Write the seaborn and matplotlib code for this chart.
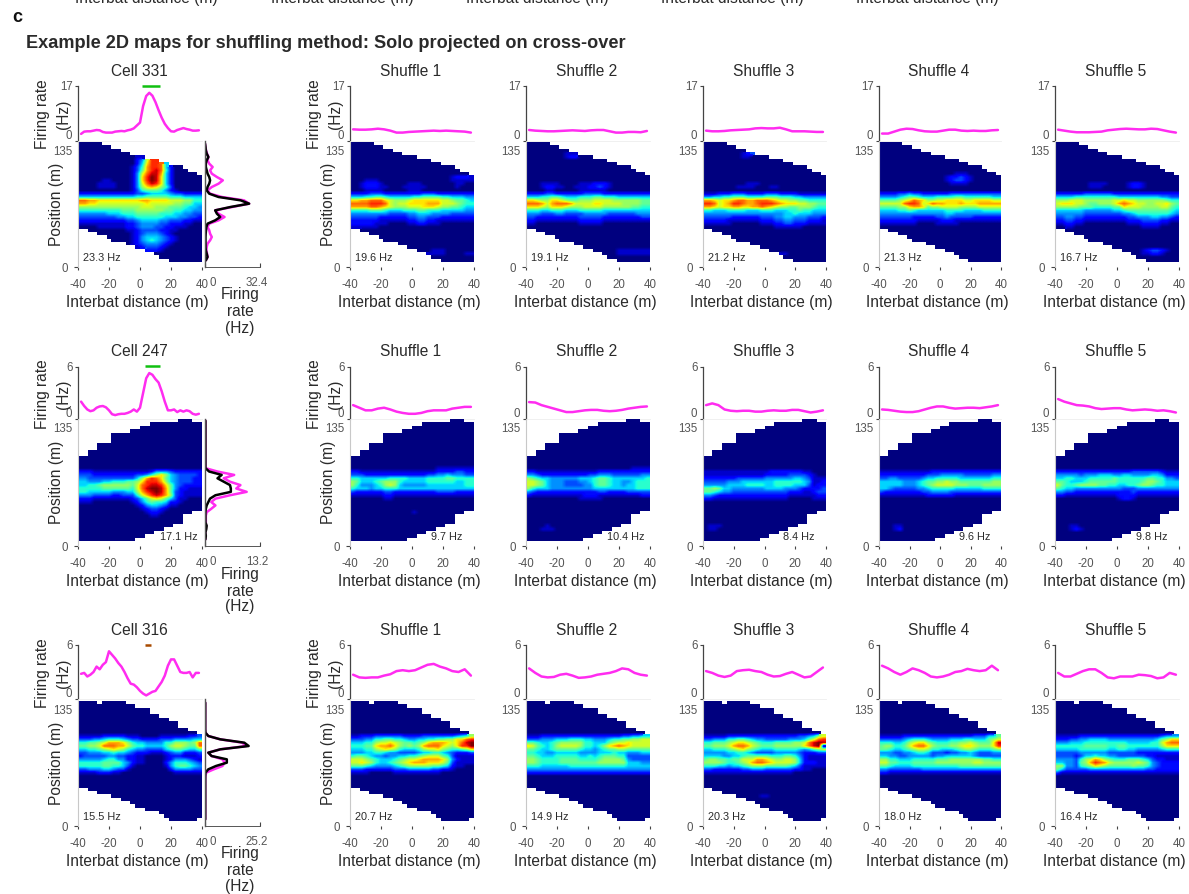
import numpy as np
import matplotlib
matplotlib.use("Agg")
import matplotlib.pyplot as plt
import seaborn as sns

FIG_W = 1189
FIG_H = 895
N_ROWS = 36
N_COLS = 26

DIST_CELL = list(range(-38, 39, 2))
DIST_SHUF = list(range(-38, 39, 4))
ROW_POS = [r + 0.5 for r in range(N_ROWS)]

# upper / lower edge of the occupied area, per column
TOP_A = [0,0,0,0,0,1,1,2,2,3,3,4,4,4,5,5,5,6,6,7,7,7,8,9,9,10]
BOT_A = [26,26,27,27,28,28,29,30,30,30,31,31,32,32,33,33,34,35,35,36,36,36,36,36,36,36]
TOP_B = [11,11,9,9,7,7,7,4,4,4,4,3,3,2,2,1,1,1,1,1,1,0,0,0,1,1]
BOT_B = [36,36,36,36,36,36,36,36,36,36,36,36,35,35,34,34,33,33,32,32,31,31,28,28,27,27]
TOP_C = [0,0,0,0,1,0,0,0,0,0,1,1,2,2,2,4,4,5,5,6,6,8,8,9,9,10]
BOT_C = [26,26,27,27,28,28,28,29,29,30,30,31,32,32,33,33,33,34,35,36,36,36,36,36,36,35]

# maps: row -> hex levels per column (0 = lowest, f = peak), missing = 0
MAP_331 = {4:"000000000000112200000", 5:"00000000000024 9ddb52000000".replace(" ", ""), 6:"0000000000002 5addc52000000".replace(" ", ""),
    7:"00000000000136bddc52000000", 8:"00000000000137bdec62000000", 9:"00000000000149ceeb52000000",
    10:"0000000000014adfea52000000", 11:"0000011000014adfea52000000", 12:"00001111000149ceda52000000",
    13:"00001111000148aba863000000", 14:"00000000000136777642100000", 15:"22222222222233455554332222",
    16:"55555555555566777776665555", 17:"ccbbaaaaaaaaabbaaaa9998866", 18:"bbaa9999999999a99999887755",
    19:"88888888888889998887776554", 20:"66666666677788888877665544", 21:"44444455566677777666554433",
    22:"33333333445566666655544332", 23:"22222222223345555443332211", 24:"11111111112234444332221100",
    25:"00001111112234443322111000", 26:"00000000001123333221100000", 27:"00000000000123444321000000",
    28:"00000000000124555432100000", 29:"00000000000124565432100000", 30:"00000000000123444321000000",
    31:"00000000000012333210000000", 32:"00000000000011222100000000", 33:"00000000000000110000000000"}
MAP_A1 = {10:"00000000000000000000012221", 11:"00011100000000000000011111", 12:"00122210000011100000001100",
    13:"00122211000111110000001000", 14:"00011110000011100000000000", 15:"22223332222222233322222222",
    16:"55566776555556677776655544", 17:"aabbccca98889aaaaaa9987765", 18:"ccccdddc9899aaaabbb9998766",
    19:"bbbbccba9888999aaa98877655", 20:"66667776555666776665555544", 21:"44444444333344555444433333",
    22:"33333322222233443332222222", 23:"22222211111122332211111111", 24:"22222111000011221110000000",
    25:"111111", 32:"000000000000000001110", 33:"00000000000000001111000011"}
MAP_A2 = {3:"00000000111", 4:"000000001220", 12:"00011110000111222100", 13:"00012211001112232100",
    14:"00001100000111111", 15:"22223322222233332222222222", 16:"55566776555666776665555555",
    17:"aa988aa9877888999988888877", 18:"cccb9bcccb9999aa9999888877", 19:"aaa98aaa988899998888887766",
    20:"66655666555666665555555555", 21:"44433344333344444333333444", 22:"33222222222333332222222233",
    23:"22111111111222221111111111", 24:"11000000000111110000000000", 32:"00000000000000000001111111",
    33:"00000000000000000001111111"}
MAP_A3 = {3:"00000000123", 4:"0000000011", 12:"00000000011100000000", 13:"000000011110001100000",
    15:"11122233322223332222111111", 16:"44556677766667776665544444", 17:"bba9aabccbbcccba9988776666",
    18:"ddc9abddcbbcdddcbaaa998877", 19:"bba9aabbaabbcba98877888766", 20:"66555666655566655566766555",
    21:"44444444444444444556555444", 22:"33333322222233344554443332", 23:"22222111111122233443332221",
    24:"11111100000011122332221111", 25:"00000000000000011111100000", 33:"000000000000000111"}
MAP_A4 = {9:"00000000000000001110", 10:"00000000000000122321000000", 11:"00000000000000123321000000",
    12:"00000000000000011110000000", 15:"22223343322222233333333333", 16:"44445677655566667766666655",
    17:"777789acba8899aaaa99aaaa99", 18:"99999cddc9acbbaaabaaabbbbb", 19:"777788abba7889999888899999",
    20:"55556676555555666655556666", 21:"44444444444444554444444444", 22:"33333332222233433333222222",
    23:"22222222111112221111111111", 24:"11111111000011111000000000"}
MAP_A5 = {12:"00000001111000012210000000", 13:"00000001110000012210000", 15:"22222233333322222222222222",
    16:"55556666666665555555554433", 17:"88899988888899a99888888766", 18:"9aaa998778889bcba998899a87",
    19:"88888777666677a99988889976", 20:"55555544444455677777777765", 21:"44444433333333445666666654",
    22:"33443322222222233444554432", 23:"22332211111111122233332211", 24:"11221100000000011122221100",
    25:"00110000000000000011110000", 32:"00000000000000000012332100", 33:"00000000000000000011221000"}

MAP_247 = {15:"22211111111111124443222222", 16:"33322222222233468a85433332", 17:"44333333333358bdca75433322",
    18:"5544455666778adddb85433322", 19:"5566788888879cdeeda7432222", 20:"6666677777769ceffeb7422111",
    21:"6655555444558bdefeb7321111", 22:"44433332233369bdedb8321111", 23:"2221111111123579a975311000",
    24:"11100000000124676652210000", 25:"00000000000012455431100000", 26:"00000000000001233210000000",
    27:"00000000000000122100", 28:"00000000000000011"}
MAP_B1 = {14:"00000000000000000011111111", 15:"22111111111111111122223322", 16:"33322222222222223344544433",
    17:"66555555666655556666776666", 18:"87555678886555556666665566", 19:"86444568985444445555555566",
    20:"65554556665555555555555555", 21:"32222223322222222233332222", 22:"11111112211111111111111111",
    23:"00000001100000000000000000", 27:"00000000000001"}
MAP_B2 = {14:"00000000000000000000001111", 15:"22111111111111122222222222", 16:"44322222222223344433333344",
    17:"87655444444555677655555556", 18:"99875444333445677655445666", 19:"99875444333344677655455666",
    20:"86555444444444555555555666", 21:"43222222222222233222233333", 22:"21111111111122211111111122",
    23:"00000000000111110", 31:"00001", 32:"000111"}
MAP_B3 = {15:"11111111111111222222211000", 16:"11111111111112222233332100", 17:"22222223333334444445543111",
    18:"33333444555555566666654112", 19:"44444555566665566665553122", 20:"77875544444445555444322223",
    21:"77654433333333333322211233", 22:"44322222222222222211111122", 23:"22111111111111111100000111",
    31:"0111", 32:"011"}
MAP_B4 = {15:"11111111111222222222222222", 16:"22222222223334444433333344", 17:"33443333345566666555555566",
    18:"55555444567788988777777788", 19:"55555444567899998887778888", 20:"55433333445666665555556666",
    21:"32222222233444433333333333", 22:"11111111112222221111111111", 31:"00011", 32:"00012"}
MAP_B5 = {15:"22222222222222223333332111", 16:"44444344455544554444554222", 17:"55665556666676666667766443",
    18:"77655567777776666678876555", 19:"97667888877665566788766555", 20:"76554444444444333444444444",
    21:"44332222222222223222222222", 22:"22111111111112222111111111", 23:"00000000000001221", 31:"00011", 32:"0001210"}

MAP_316 = {10:"11111222221110000111111223", 11:"33344566654332222333444455", 12:"667789bbba865544446688878c",
    13:"77889cccbb976655556899877c", 14:"5566789a986544333356776557",
    15:"33444556554322211123442223", 16:"23333344332211000012221112", 17:"44444566442211000012444321",
    18:"66666777754211000024666543", 19:"66666776653100000014677654", 20:"33444554331000000002444433",
    21:"11112221100000000000111111"}
MAP_C1 = {10:"11222333333222233333334568", 11:"3334466776654455667788aacd", 12:"55566899a9877678abbba9acef",
    13:"66677abbca87878bccca98addf", 14:"5556689a986555689 9a876678a".replace(" ", ""), 15:"44455665443333455665432223",
    16:"67765443445566789997631111", 17:"99987655567899abbbba842111", 18:"99a986556789abbbaaa9731111",
    19:"77765444456788888776521100", 20:"33322222233344444332210000", 21:"11110000011111111110"}
MAP_C2 = {10:"11122222222222222222334455", 11:"33344455566655444566778899", 12:"776556788888665557899a9999",
    13:"a9765689999866568abcba9999", 14:"77655677777655456778877777", 15:"66554455555444455565544455",
    16:"77655566666556567776633333", 17:"88766667777666678888743333", 18:"88766667777777788888855544",
    19:"66655555566666666666655555", 20:"44444444444444444444444444", 21:"22222222222222222222222222"}
MAP_C3 = {10:"11111222222222222222334589", 11:"334446677654433333444579cd", 12:"6677789aa9876667777889cefe",
    13:"778889bccb9877788888 8acef".replace(" ", ""), 14:"55666789a87655566666545789", 15:"44444556654333344444322233",
    16:"55554455677777666776421111", 17:"78877677999bba988998521111", 18:"8888766789bccba99998522211",
    19:"66655455678887777765311111", 20:"33222222334443333332211000", 21:"11111111111111111110", 28:"000000000000110"}
MAP_C4 = {10:"11111222222222222222333557", 11:"33333456665444455566555789", 12:"66655689aa87666778898777ae",
    13:"7886679bcca8777889aa9888ad", 14:"77655678998665556788766678", 15:"44433445665333233445433344",
    16:"55443344444344555555433333", 17:"88665556666677788888887766", 18:"99776667777788888888998888",
    19:"77655556666666666777777777", 20:"44333333344444444444444444", 21:"22111111111111111111111111"}
MAP_C5 = {10:"11111222222222222222223444", 11:"222334455554444444444578aa", 12:"44455566666666655555669bcc",
    13:"66666677777667766666668aaa", 14:"55555666666556655444445666", 15:"33333444444333333222222222",
    16:"33332355655443333332211111", 17:"44443689ba8766677765322111", 18:"5544378bdcb988888987432222",
    19:"88443678a98777778776432222", 20:"75333334444444444443322222", 21:"31111111111111111111111111"}

# firing rate along interbat distance
LINE_331 = [2.2,2.9,3.0,3.0,3.2,3.4,3.3,2.8,2.6,2.6,2.6,2.9,3.0,3.1,3.0,3.3,3.5,3.9,4.8,5.7,10.8,13.9,14.9,14.0,12.0,9.5,7.2,5.3,4.0,3.0,2.9,3.4,3.7,4.0,3.7,3.5,3.2,3.2,3.3]
LINE_247 = [2.0,1.5,1.1,0.9,1.0,1.3,1.45,1.5,1.35,1.0,0.55,0.45,0.55,0.6,0.6,0.7,0.85,1.1,0.85,1.3,3.0,4.7,5.3,5.1,4.6,4.2,3.2,2.0,1.0,1.0,1.1,0.8,1.0,0.85,1.0,0.9,0.6,0.5,0.6]
LINE_316 = [2.8,2.9,2.5,2.7,3.0,3.6,3.3,3.8,4.1,5.3,4.9,4.5,4.0,3.6,3.0,2.3,1.7,1.6,1.3,0.9,0.6,0.4,0.6,0.8,0.9,1.4,1.9,2.6,3.7,4.4,4.4,3.7,3.0,2.9,2.9,3.0,2.4,2.9,2.9]
LINE_A = [[3.6,3.5,3.5,3.6,3.8,3.6,3.2,2.6,2.6,2.8,2.9,3.0,3.1,3.2,3.1,3.2,3.1,3.0,2.9,2.6],
    [3.4,3.2,3.1,3.0,3.0,3.1,3.2,3.3,3.2,3.1,3.3,3.4,3.4,3.0,2.6,2.6,2.8,2.8,2.7,3.1],
    [3.2,3.0,3.0,3.1,3.3,3.4,3.5,3.6,3.9,4.0,3.9,3.9,4.1,3.6,3.0,3.0,3.0,2.9,2.8,2.8],
    [2.3,2.3,2.9,3.5,3.8,3.7,3.3,3.0,2.9,2.9,3.2,3.5,3.5,3.2,3.1,3.2,3.1,3.1,3.3,3.4],
    [3.5,3.2,2.9,2.7,2.7,2.7,2.8,2.9,3.3,3.5,3.7,3.8,3.7,3.6,3.6,3.8,3.7,3.3,2.9,2.6]]
LINE_B = [[1.6,1.3,1.0,1.0,1.2,1.3,1.1,0.85,0.7,0.6,0.6,0.7,0.9,1.0,1.0,1.0,1.2,1.3,1.4,1.4],
    [1.95,1.9,1.6,1.4,1.2,1.0,0.8,0.8,0.9,1.0,1.05,1.05,0.95,0.9,0.95,1.05,1.2,1.3,1.4,1.45],
    [1.6,1.8,1.6,1.1,0.95,0.9,0.95,0.95,0.85,0.85,0.95,1.0,0.95,0.95,1.05,1.05,0.9,0.75,0.85,1.0],
    [1.1,1.05,0.95,0.85,0.8,0.8,0.9,1.1,1.3,1.45,1.45,1.3,1.2,1.25,1.3,1.3,1.25,1.35,1.45,1.6],
    [2.3,2.0,1.8,1.6,1.55,1.45,1.25,1.15,1.2,1.25,1.25,1.1,1.0,1.05,1.1,1.05,0.95,1.0,0.9,0.75]]
LINE_C = [[2.7,2.4,2.35,2.4,2.4,2.6,2.75,3.1,3.2,3.1,3.2,3.5,3.8,3.9,3.6,3.4,3.1,3.0,3.3,2.6],
    [3.4,2.9,2.5,2.4,2.45,2.7,2.8,2.6,2.35,2.4,2.5,2.7,2.8,2.9,3.1,3.4,3.3,2.9,2.7,2.6],
    [3.1,2.9,2.6,2.45,2.6,3.1,3.2,3.25,3.1,3.0,2.7,2.5,2.55,2.8,3.0,2.7,2.4,2.5,3.0,3.5],
    [3.7,3.4,3.0,2.7,3.0,3.4,3.2,2.9,2.5,2.4,2.5,2.7,3.0,3.1,3.35,3.2,3.1,3.2,3.7,3.2],
    [2.9,2.5,2.5,2.8,3.1,3.3,3.3,2.9,2.4,2.3,2.5,2.5,2.5,2.7,2.65,2.55,2.3,2.4,2.9,2.7]]

# firing rate along position, one value per map row
SIDE_331_M = [0,.3,.6,1.2,2,1.5,2.5,4.5,3,4,7,10.5,8,4,1.5,3,10,23,26,16,6,8,11.5,8,2.5,1.5,2.5,3,4,3,1.5,1,.8,1.2,1.5,.5]
SIDE_331_B = [0,.3,.5,1,2,1,.5,.5,1,1.5,2.5,3,2.5,1.5,1,2.5,8,21,26,15,6,7,9,6,1.5,.8,.6,.4,.3,.3,.3,.3,.5,1,1.5,.5]
SIDE_247_M = [.1,.1,.1,.1,.1,.1,.1,.1,.1,.1,.1,.1,.1,.1,.1,3,7,4.5,6,8.5,7.5,10,6,2.5,1.5,2.5,1.5,.4,.2,.2,.2,.2,.2,.1,.1,.1]
SIDE_247_B = [.1,.1,.1,.1,.1,.1,.1,.1,.1,.1,.1,.1,.1,.1,.1,1,4,3,4.5,6,6.2,6.2,2.5,1.2,.8,.4,.2,.1,.1,.1,.1,.4,.3,.1,.2,.1]
SIDE_316_M = [.1,.1,.1,.1,.1,.1,.1,.1,.1,.2,1.5,7,17,19,7,1.5,3,8,9,8,4,.5,.2,.1,.1,.1,.1,.1,.1,.1,.1,.1,.1,.1,.1,.1]
SIDE_316_B = [.1,.1,.1,.1,.1,.1,.1,.1,.1,.2,1.5,7,18,20,7,1.5,3,10,10,5,1.5,.2,.1,.1,.1,.1,.1,.1,.1,.1,.1,.1,.1,.1,.1,.1]

COL_LEFT = [350, 526, 703, 879, 1055]
COL_RIGHT = [474, 650, 826, 1001, 1179]
MAGENTA = "#ff2cf0"
TICK_GREY = "#555555"
TEXT = "#2a2a2a"


def figText(x, y, s, size=11.2, **kw):
    kw.setdefault("ha", "center")
    kw.setdefault("va", "center")
    kw.setdefault("color", TEXT)
    fig.text(x / FIG_W, 1 - y / FIG_H, s, fontsize=size, **kw)


def addAxes(left, top, right, bottom):
    return fig.add_axes([left / FIG_W, 1 - bottom / FIG_H, (right - left) / FIG_W, (bottom - top) / FIG_H])


def buildMap(rows, topEdge, botEdge):
    data = np.zeros((N_ROWS, N_COLS))
    for r, s in rows.items():
        s = s.ljust(N_COLS, "0")[:N_COLS]
        data[r] = [int(c, 16) for c in s]
    mask = np.ones((N_ROWS, N_COLS), dtype=bool)
    for c in range(N_COLS):
        mask[topEdge[c]:botEdge[c], c] = False
    return data, mask


def drawMap(left, right, geo, rows, topEdge, botEdge, hzText, hzX, showLabel):
    data, mask = buildMap(rows, topEdge, botEdge)
    ax = addAxes(left, geo["heatTop"], right, geo["axisY"])
    sns.heatmap(data, mask=mask, cmap="jet", vmin=0, vmax=15, cbar=False, ax=ax,
                xticklabels=False, yticklabels=False)
    # same cells again, drawn with display smoothing as in the published figure
    ax.imshow(np.ma.array(data, mask=mask), cmap="jet", vmin=0, vmax=15, aspect="auto",
              interpolation="bilinear", extent=(0, N_COLS, N_ROWS, 0), zorder=2)
    rowPx = (geo["heatBottom"] - geo["heatTop"]) / N_ROWS
    yBottom = (geo["axisY"] - geo["heatTop"]) / rowPx
    ax.set_ylim(yBottom, 0)
    ax.set_xlim(0, N_COLS)
    ax.set_xticks([0, 6.5, 13, 19.5, 26])
    ax.set_xticklabels(["-40", "-20", "0", "20", "40"], fontsize=8.3, color=TICK_GREY)
    ax.set_yticks([yBottom, 2.2])
    ax.set_yticklabels(["0", "135"], fontsize=8.3, color=TICK_GREY)
    ax.tick_params(axis="x", length=2, width=0.8, color="#444444", pad=6, bottom=True)
    ax.tick_params(axis="y", length=3, width=0.8, color="#444444", pad=4, left=True, rotation=0)
    ticks = ax.yaxis.get_major_ticks()
    ticks[1].tick1line.set_visible(False)
    ticks[1].set_pad(1)
    for name, sp in ax.spines.items():
        sp.set_visible(name == "left")
        sp.set_color("#c8c8c8")
        sp.set_linewidth(0.8)
    ax.patch.set_alpha(0)
    figText(hzX, geo["hzY"], hzText, size=7.8, ha="left")
    figText((left + right) / 2 - 3, geo["axisY"] + 35, "Interbat distance (m)")
    if showLabel:
        figText(left - 21, (geo["heatTop"] + geo["axisY"]) / 2 - 1, "Position (m)", rotation=90)


def drawLine(left, right, geo, dist, vals, ymax, showLabel):
    ax = addAxes(left, geo["lineTop"], right, geo["lineBottom"])
    sns.lineplot(x=dist, y=vals, ax=ax, color=MAGENTA, linewidth=1.8, estimator=None)
    ax.set(xlabel="", ylabel="")
    ax.set_xlim(-40, 40)
    ax.set_ylim(0, ymax)
    ax.set_xticks([])
    ax.set_yticks([0, ymax])
    ax.set_yticklabels(["0", str(ymax)], fontsize=8.3, color=TICK_GREY)
    ax.tick_params(axis="y", length=2, width=0.8, color="#444444", pad=2, left=True)
    ax.get_yticklabels()[0].set_va("bottom")
    ax.get_yticklabels()[1].set_va("center")
    for name, sp in ax.spines.items():
        sp.set_visible(name in ("left", "bottom"))
    ax.spines["left"].set_color("#444444")
    ax.spines["left"].set_linewidth(0.9)
    ax.spines["bottom"].set_color("#eeeeee")
    ax.spines["bottom"].set_linewidth(0.6)
    ax.patch.set_alpha(0)
    if showLabel:
        yc = (geo["lineTop"] + geo["lineBottom"]) / 2
        figText(left - 36, yc, "Firing rate", rotation=90)
        figText(left - 15, yc, "(Hz)", rotation=90)


def drawSide(geo, rateM, rateB, xmax):
    ax = addAxes(205, geo["lineBottom"], 260, geo["axisY"])
    rowPx = (geo["heatBottom"] - geo["heatTop"]) / N_ROWS
    ylim = ((geo["axisY"] - geo["heatTop"]) / rowPx, -(geo["heatTop"] - geo["lineBottom"]) / rowPx)
    sns.lineplot(x=rateM, y=ROW_POS, ax=ax, color=MAGENTA, linewidth=1.8, estimator=None, sort=False, orient="y")
    sns.lineplot(x=rateB, y=ROW_POS, ax=ax, color="black", linewidth=1.8, estimator=None, sort=False, orient="y")
    ax.set(xlabel="", ylabel="")
    ax.set_xlim(0, xmax)
    ax.set_ylim(ylim)
    ax.set_yticks([])
    ax.set_xticks([0, xmax])
    ax.set_xticklabels([])
    ax.tick_params(axis="x", direction="in", length=3, width=0.8, color="#444444", bottom=True)
    for name, sp in ax.spines.items():
        sp.set_visible(name in ("left", "bottom"))
        sp.set_color("#555555")
    ax.spines["left"].set_linewidth(1.0)
    ax.spines["bottom"].set_linewidth(0.7)
    ax.patch.set_alpha(0)
    figText(213, geo["axisY"] + 15, "0", size=8.3, color=TICK_GREY)
    figText(257, geo["axisY"] + 15, str(xmax), size=8.3, color=TICK_GREY)
    for dy, s in zip((27, 44, 60), ("Firing", "rate", "(Hz)")):
        figText(240, geo["axisY"] + dy, s)


def drawGroup(geo, cellName, cellLine, ymax, cellMap, shufLines, shufMaps, topEdge, botEdge,
              cellHz, cellHzX, shufHz, shufHzDx, sideM, sideB, sideMax, barX, barColor):
    figText(139, geo["titleY"], cellName)
    drawLine(78, 202, geo, DIST_CELL, cellLine, ymax, True)
    drawMap(78, 202, geo, cellMap, topEdge, botEdge, cellHz, cellHzX, True)
    drawSide(geo, sideM, sideB, sideMax)
    fig.add_artist(plt.Line2D([barX[0] / FIG_W, barX[1] / FIG_W],
                              [1 - geo["barY"] / FIG_H, 1 - geo["barY"] / FIG_H],
                              color=barColor, linewidth=1.8, solid_capstyle="butt"))
    for i in range(5):
        figText((COL_LEFT[i] + COL_RIGHT[i]) / 2 - 1, geo["titleY"], "Shuffle %d" % (i + 1))
        drawLine(COL_LEFT[i], COL_RIGHT[i], geo, DIST_SHUF, shufLines[i], ymax, i == 0)
        drawMap(COL_LEFT[i], COL_RIGHT[i], geo, shufMaps[i], topEdge, botEdge, shufHz[i], COL_LEFT[i] + shufHzDx[i], i == 0)


sns.set_theme(style="white")
plt.rcParams["font.family"] = ["Liberation Sans", "DejaVu Sans"]

fig = plt.figure(figsize=(FIG_W / 100, FIG_H / 100), dpi=100)

for cx in (146.5, 342, 537, 732, 927.5):
    figText(cx, -1, "Interbat distance (m)")
figText(12, 17, "c", size=13, ha="left", fontweight="bold", color="#111111")
figText(26, 44, "Example 2D maps for shuffling method: Solo projected on cross-over",
        size=13.1, ha="left", fontweight="bold")

geoA = dict(titleY=72, lineTop=87, lineBottom=142, heatTop=143, heatBottom=263, axisY=268, hzY=258, barY=87)
geoB = dict(titleY=352, lineTop=368, lineBottom=420, heatTop=420, heatBottom=542, axisY=547, hzY=537, barY=367)
geoC = dict(titleY=631, lineTop=646, lineBottom=700, heatTop=702, heatBottom=822, axisY=827, hzY=817, barY=646)

drawGroup(geoA, "Cell 331", LINE_331, 17, MAP_331, LINE_A, [MAP_A1, MAP_A2, MAP_A3, MAP_A4, MAP_A5], TOP_A, BOT_A,
          "23.3 Hz", 83, ["19.6 Hz", "19.1 Hz", "21.2 Hz", "21.3 Hz", "16.7 Hz"], [5, 5, 5, 5, 5],
          SIDE_331_M, SIDE_331_B, 32.4, (142, 160), "#10c010")
drawGroup(geoB, "Cell 247", LINE_247, 6, MAP_247, LINE_B, [MAP_B1, MAP_B2, MAP_B3, MAP_B4, MAP_B5], TOP_B, BOT_B,
          "17.1 Hz", 160, ["9.7 Hz", "10.4 Hz", "8.4 Hz", "9.6 Hz", "9.8 Hz"], [81, 81, 80, 80, 81],
          SIDE_247_M, SIDE_247_B, 13.2, (145, 160), "#10c010")
drawGroup(geoC, "Cell 316", LINE_316, 6, MAP_316, LINE_C, [MAP_C1, MAP_C2, MAP_C3, MAP_C4, MAP_C5], TOP_C, BOT_C,
          "15.5 Hz", 83, ["20.7 Hz", "14.9 Hz", "20.3 Hz", "18.0 Hz", "16.4 Hz"], [5, 5, 5, 5, 5],
          SIDE_316_M, SIDE_316_B, 25.2, (145, 151), "#a84a00")

fig.savefig("out.png", dpi=100, facecolor="white")
